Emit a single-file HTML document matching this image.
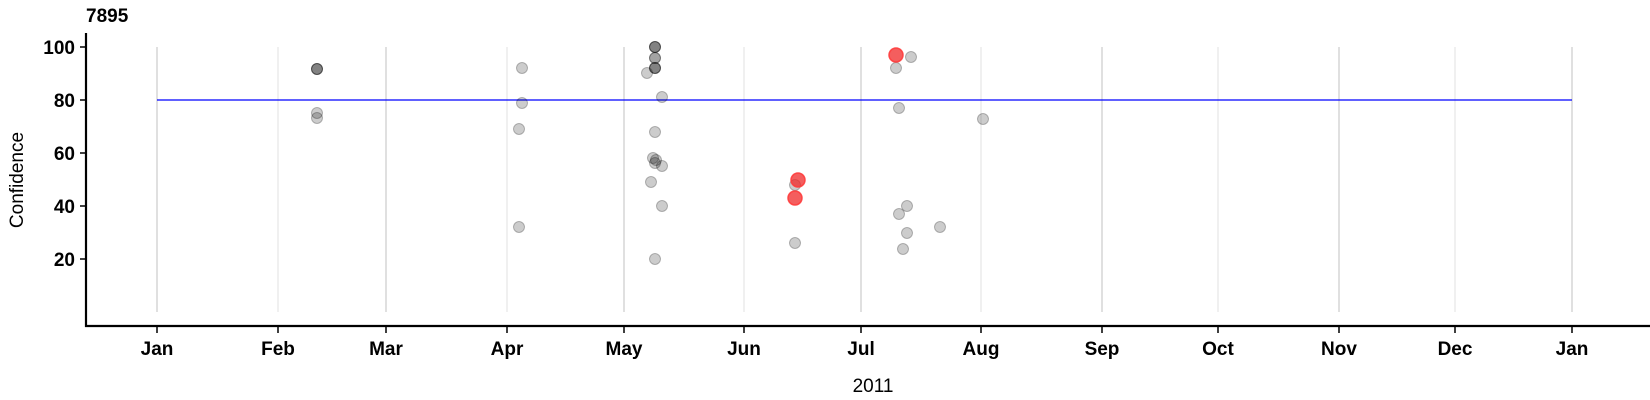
<!DOCTYPE html>
<html><head><meta charset="utf-8"><style>body{margin:0;background:#fff}svg{display:block}text{font-family:"Liberation Sans",Arial,sans-serif}</style></head>
<body>
<svg width="1650" height="400" xmlns="http://www.w3.org/2000/svg">
<g stroke-width="1.2">
<line x1="157" y1="47" x2="157" y2="312" stroke="#ccc"/>
<line x1="278" y1="47" x2="278" y2="312" stroke="#e6e6e6"/>
<line x1="386" y1="47" x2="386" y2="312" stroke="#ccc"/>
<line x1="507" y1="47" x2="507" y2="312" stroke="#e6e6e6"/>
<line x1="624" y1="47" x2="624" y2="312" stroke="#ccc"/>
<line x1="744" y1="47" x2="744" y2="312" stroke="#e6e6e6"/>
<line x1="861" y1="47" x2="861" y2="312" stroke="#ccc"/>
<line x1="981" y1="47" x2="981" y2="312" stroke="#e6e6e6"/>
<line x1="1102" y1="47" x2="1102" y2="312" stroke="#ccc"/>
<line x1="1218" y1="47" x2="1218" y2="312" stroke="#e6e6e6"/>
<line x1="1339" y1="47" x2="1339" y2="312" stroke="#ccc"/>
<line x1="1455" y1="47" x2="1455" y2="312" stroke="#e6e6e6"/>
<line x1="1572" y1="47" x2="1572" y2="312" stroke="#ccc"/>
</g>
<line x1="157" y1="100" x2="1572" y2="100" stroke="#0000ff" stroke-width="1.2"/>
<g fill="rgba(0,0,0,0.2)" stroke="rgba(0,0,0,0.25)" stroke-width="1">
<circle cx="317" cy="69" r="5.5"/><circle cx="317" cy="69" r="5.5"/><circle cx="317" cy="69" r="5.5"/>
<circle cx="317" cy="113" r="5.5"/><circle cx="317" cy="118" r="5.5"/>
<circle cx="522" cy="68" r="5.5"/><circle cx="522" cy="103" r="5.5"/><circle cx="519" cy="129" r="5.5"/><circle cx="519" cy="227" r="5.5"/>
<circle cx="655" cy="47" r="5.5"/><circle cx="655" cy="47" r="5.5"/><circle cx="655" cy="47" r="5.5"/>
<circle cx="655" cy="58" r="5.5"/><circle cx="655" cy="58" r="5.5"/>
<circle cx="655" cy="68" r="5.5"/><circle cx="655" cy="68" r="5.5"/><circle cx="655" cy="68" r="5.5"/>
<circle cx="647" cy="73" r="5.5"/><circle cx="662" cy="97" r="5.5"/><circle cx="655" cy="132" r="5.5"/>
<circle cx="653" cy="158" r="5.5"/><circle cx="656" cy="160" r="5.5"/><circle cx="655" cy="163" r="5.5"/><circle cx="662" cy="166" r="5.5"/>
<circle cx="651" cy="182" r="5.5"/><circle cx="662" cy="206" r="5.5"/><circle cx="655" cy="259" r="5.5"/>
<circle cx="795" cy="185" r="5.5"/><circle cx="795" cy="243" r="5.5"/>
<circle cx="911" cy="57" r="5.5"/><circle cx="896" cy="68" r="5.5"/><circle cx="899" cy="108" r="5.5"/>
<circle cx="907" cy="206" r="5.5"/><circle cx="899" cy="214" r="5.5"/><circle cx="907" cy="233" r="5.5"/><circle cx="903" cy="249" r="5.5"/>
<circle cx="940" cy="227" r="5.5"/><circle cx="983" cy="119" r="5.5"/>
</g>
<g fill="rgba(240,40,40,0.75)" stroke="rgba(255,60,60,0.9)" stroke-width="1.5">
<circle cx="798" cy="180" r="7"/><circle cx="795" cy="198" r="7"/><circle cx="896" cy="55" r="7"/>
</g>
<g stroke="#000" stroke-width="2.2">
<line x1="86" y1="33" x2="86" y2="327"/>
<line x1="85" y1="326" x2="1650" y2="326"/>
</g>
<g stroke="#000" stroke-width="1.5">
<line x1="80" y1="47" x2="86" y2="47"/><line x1="80" y1="100" x2="86" y2="100"/><line x1="80" y1="153" x2="86" y2="153"/><line x1="80" y1="206" x2="86" y2="206"/><line x1="80" y1="259" x2="86" y2="259"/>
<line x1="157" y1="326" x2="157" y2="333"/><line x1="278" y1="326" x2="278" y2="333"/><line x1="386" y1="326" x2="386" y2="333"/><line x1="507" y1="326" x2="507" y2="333"/><line x1="624" y1="326" x2="624" y2="333"/><line x1="744" y1="326" x2="744" y2="333"/><line x1="861" y1="326" x2="861" y2="333"/><line x1="981" y1="326" x2="981" y2="333"/><line x1="1102" y1="326" x2="1102" y2="333"/><line x1="1218" y1="326" x2="1218" y2="333"/><line x1="1339" y1="326" x2="1339" y2="333"/><line x1="1455" y1="326" x2="1455" y2="333"/><line x1="1572" y1="326" x2="1572" y2="333"/>
</g>
<g font-size="19" font-weight="bold" text-anchor="end">
<text x="75" y="54">100</text><text x="75" y="107">80</text><text x="75" y="160">60</text><text x="75" y="213">40</text><text x="75" y="266">20</text>
</g>
<g font-size="19" font-weight="bold" text-anchor="middle">
<text x="157" y="355">Jan</text><text x="278" y="355">Feb</text><text x="386" y="355">Mar</text><text x="507" y="355">Apr</text><text x="624" y="355">May</text><text x="744" y="355">Jun</text><text x="861" y="355">Jul</text><text x="981" y="355">Aug</text><text x="1102" y="355">Sep</text><text x="1218" y="355">Oct</text><text x="1339" y="355">Nov</text><text x="1455" y="355">Dec</text><text x="1572" y="355">Jan</text>
</g>
<text x="86" y="22" font-size="19" font-weight="bold">7895</text>
<text x="873" y="392" font-size="19" text-anchor="middle">2011</text>
<text transform="translate(23,180) rotate(-90)" font-size="19" text-anchor="middle">Confidence</text>
</svg>
</body></html>
